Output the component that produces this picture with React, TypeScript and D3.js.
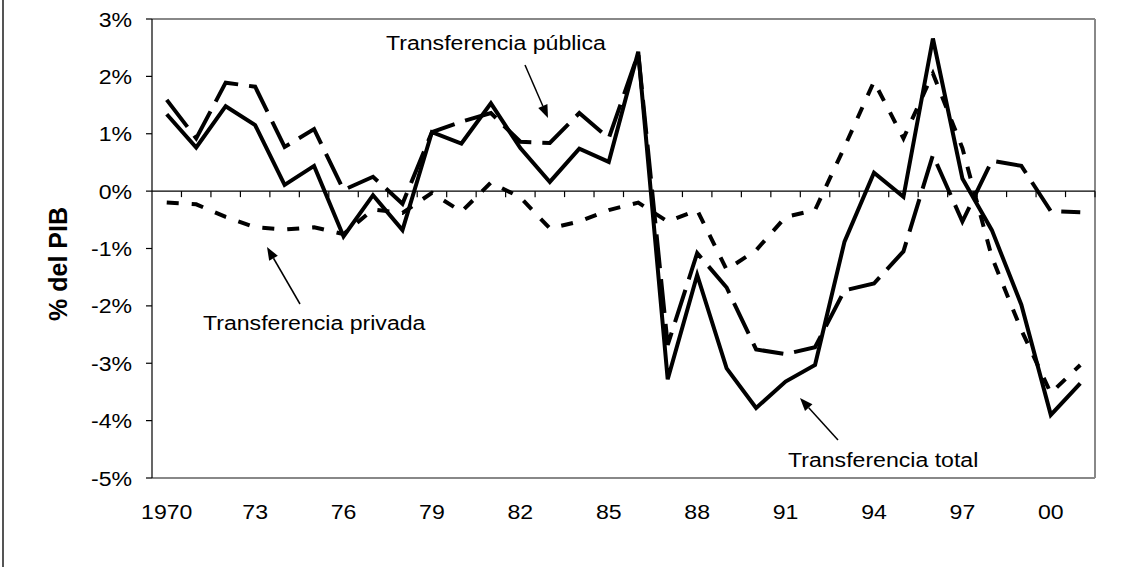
import React from "react";
import * as d3 from "d3";

const years = [
  1970, 1971, 1972, 1973, 1974, 1975, 1976, 1977, 1978, 1979,
  1980, 1981, 1982, 1983, 1984, 1985, 1986, 1987, 1988, 1989,
  1990, 1991, 1992, 1993, 1994, 1995, 1996, 1997, 1998, 1999,
  2000, 2001,
];

const total = [
  1.34, 0.76, 1.48, 1.15, 0.11, 0.44, -0.79, -0.07, -0.68, 1.03,
  0.83, 1.53, 0.75, 0.16, 0.74, 0.51, 2.43, -3.28, -1.46, -3.09,
  -3.78, -3.32, -3.03, -0.88, 0.32, -0.10, 2.66, 0.22, -0.68, -1.98,
  -3.90, -3.35,
];

const publica = [
  1.59, 0.92, 1.89, 1.82, 0.77, 1.08, 0.02, 0.25, -0.22, 1.03,
  1.21, 1.36, 0.86, 0.84, 1.36, 0.92, 2.40, -2.68, -1.08, -1.68,
  -2.76, -2.84, -2.72, -1.73, -1.61, -1.05, 0.63, -0.53, 0.53, 0.44,
  -0.35, -0.37,
];

const privada = [
  -0.20, -0.23, -0.45, -0.63, -0.67, -0.63, -0.75, -0.32, -0.38, -0.03,
  -0.36, 0.15, -0.11, -0.65, -0.53, -0.33, -0.20, -0.53, -0.33, -1.37,
  -1.03, -0.45, -0.33, 0.77, 1.91, 0.92, 2.05, 0.75, -1.15, -2.42,
  -3.52, -3.03,
];

const xTickYears = [1970, 1973, 1976, 1979, 1982, 1985, 1988, 1991, 1994, 1997, 2000];
const xTickLabels = ["1970", "73", "76", "79", "82", "85", "88", "91", "94", "97", "00"];
const yTicks = [3, 2, 1, 0, -1, -2, -3, -4, -5];

const W = 1124;
const H = 567;
const plot = { left: 152, right: 1095, top: 19, bottom: 478 };
const FONT = "'Liberation Sans', Arial, sans-serif";
const FS = 21;
const SX = 1.1;

function T({ x, y, anchor = "start", children, weight = "normal", size = FS }: any) {
  return (
    <g transform={`translate(${x},${y}) scale(${SX},1)`}>
      <text x={0} y={0} textAnchor={anchor} fontFamily={FONT} fontSize={size} fontWeight={weight} fill="#000">
        {children}
      </text>
    </g>
  );
}

function Arrow({ x1, y1, x2, y2 }: any) {
  const ang = Math.atan2(y2 - y1, x2 - x1);
  const len = 13;
  const wid = 5;
  const bx = x2 - len * Math.cos(ang);
  const by = y2 - len * Math.sin(ang);
  const px = -Math.sin(ang) * wid;
  const py = Math.cos(ang) * wid;
  return (
    <g>
      <line x1={x1} y1={y1} x2={bx} y2={by} stroke="#000" strokeWidth={1.5} />
      <polygon points={`${x2},${y2} ${bx + px},${by + py} ${bx - px},${by - py}`} fill="#000" />
    </g>
  );
}

export default function App() {
  const band = d3.scaleBand<number>().domain(years).range([plot.left, plot.right]).padding(0);
  const x = (yr: number) => (band(yr) as number) + band.bandwidth() / 2;
  const y = d3.scaleLinear().domain([-5, 3]).range([plot.bottom, plot.top]);

  const line = (vals: number[]) =>
    d3.line<number>().x((_, i) => x(years[i])).y((v) => y(v))(vals) as string;

  const boundaries = years.map((yr) => band(yr) as number).concat([plot.right]);

  return (
    <div style={{ position: "absolute", left: 0, top: 0 }}>
      <svg width={W} height={H} style={{ display: "block", background: "#fff" }}>
        <rect x={0} y={0} width={W} height={H} fill="#fff" />
        {/* outer chart border (left) */}
        <line x1={3} y1={0} x2={3} y2={H} stroke="#555" strokeWidth={2} />

        {/* plot border */}
        <line x1={plot.left} y1={plot.top} x2={plot.right} y2={plot.top} stroke="#888" strokeWidth={2} />
        <line x1={plot.right} y1={plot.top} x2={plot.right} y2={plot.bottom} stroke="#888" strokeWidth={2} />
        <line x1={plot.left} y1={plot.bottom} x2={plot.right} y2={plot.bottom} stroke="#888" strokeWidth={2} />

        {/* y axis */}
        <line x1={plot.left} y1={plot.top} x2={plot.left} y2={plot.bottom} stroke="#000" strokeWidth={1.2} />
        {yTicks.map((t) => (
          <g key={t}>
            <line x1={plot.left - 6} y1={y(t)} x2={plot.left} y2={y(t)} stroke="#000" strokeWidth={1.2} />
            <T x={132} y={y(t) + 7.5} anchor="end">{`${t}%`}</T>
          </g>
        ))}

        {/* zero line with category ticks */}
        <line x1={plot.left} y1={y(0)} x2={plot.right} y2={y(0)} stroke="#000" strokeWidth={1.2} />
        {boundaries.slice(1).map((bx, i) => (
          <line key={i} x1={bx} y1={y(0)} x2={bx} y2={y(0) + 6} stroke="#000" strokeWidth={1.2} />
        ))}

        {/* x labels */}
        {xTickYears.map((yr, i) => (
          <T key={yr} x={x(yr)} y={519} anchor="middle">{xTickLabels[i]}</T>
        ))}

        {/* y title */}
        <g transform={`translate(67,264) rotate(-90)`}>
          <text x={0} y={0} textAnchor="middle" fontFamily={FONT} fontSize={25} fontWeight="bold" fill="#000">
            % del PIB
          </text>
        </g>

        {/* series */}
        <path d={line(privada)} fill="none" stroke="#000" strokeWidth={4} strokeDasharray="12,13" strokeLinejoin="miter" />
        <path d={line(publica)} fill="none" stroke="#000" strokeWidth={4} strokeDasharray="34,11" strokeLinejoin="miter" />
        <path d={line(total)} fill="none" stroke="#000" strokeWidth={4} strokeLinejoin="miter" />

        {/* annotations */}
        <T x={386} y={50}>Transferencia pública</T>
        <Arrow x1={525} y1={65} x2={548} y2={118} />
        <T x={203} y={330}>Transferencia privada</T>
        <Arrow x1={300} y1={304} x2={267} y2={247} />
        <T x={788} y={467}>Transferencia total</T>
        <Arrow x1={838} y1={440} x2={800} y2={398} />
      </svg>
    </div>
  );
}
